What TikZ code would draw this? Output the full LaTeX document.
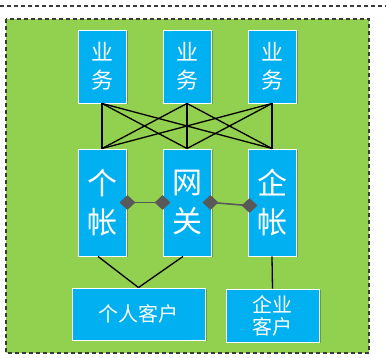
\documentclass[tikz,border=0pt]{standalone}
\usepackage{fontspec}
\newfontfamily\cjk{Noto Sans CJK SC}
\usetikzlibrary{shadows,shapes.geometric}
\definecolor{boxblue}{HTML}{00B0F0}
\definecolor{bggreen}{HTML}{92D050}
\definecolor{dgray}{HTML}{595959}
\definecolor{dashgray}{HTML}{3A3A3A}
\begin{document}
\begin{tikzpicture}[x=1pt,y=-1pt,
  box/.style={draw=white, line width=0.9pt, fill=boxblue, text=white, inner sep=0pt, align=center,
    drop shadow={opacity=0.25, shadow xshift=1.5pt, shadow yshift=-1.5pt, fill=black}},
  topbox/.style={box, minimum width=48pt, minimum height=73pt, font=\cjk\fontsize{22}{28}\selectfont},
  midbox/.style={box, minimum width=48pt, minimum height=107pt, font=\cjk\fontsize{30}{39}\selectfont},
  link/.style={black, line width=1.3pt},
  conn/.style={dgray, line width=1.6pt},
  dashline/.style={dashgray, line width=1.2pt, dash pattern=on 4pt off 3pt},
  dia/.style={diamond, fill=dgray, minimum width=16pt, minimum height=15pt, inner sep=0pt}]
\useasboundingbox (0,0) rectangle (386,358);
\draw[dashline] (0,6) -- (386,6);
\draw[dashline, fill=bggreen] (6,19) rectangle (369,353);

\node[topbox] (t1) at (102,66.5) {业\\务};
\node[topbox] (t2) at (187,66.5) {业\\务};
\node[topbox] (t3) at (272,66.5) {业\\务};

\node[midbox] (m1) at (102,202.5) {个\\帐};
\node[midbox] (m2) at (187,202.5) {网\\关};
\node[midbox] (m3) at (272,202.5) {企\\帐};

\node[box, minimum width=133pt, minimum height=52pt, font=\cjk\fontsize{20}{24}\selectfont] (pc) at (138.5,314) {个人客户};
\node[box, minimum width=93pt, minimum height=53pt, font=\cjk\fontsize{20}{22}\selectfont] (qc) at (272.5,315.5) {企业\\客户};

\foreach \a in {t1,t2,t3}{
  \foreach \b in {m1,m2,m3}{
    \draw[link] (\a.south) -- (\b.north);
  }
}
\draw[link] ([xshift=-4pt]m1.south) -- (pc.north);
\draw[link] ([xshift=-4pt]m2.south) -- (pc.north);
\draw[link] (m3.south) -- (qc.north);

\draw[conn] (m1.east) -- (m2.west);
\draw[conn] (m2.east) -- ([yshift=-3pt]m3.west);
\node[dia] (d1) at ([xshift=1pt]m1.east) {};
\node[dia] (d2) at (m2.west) {};
\node[dia] (d3) at ([xshift=-1pt]m2.east) {};
\node[dia] (d4) at ([xshift=2pt,yshift=-3pt]m3.west) {};
\end{tikzpicture}
\end{document}
